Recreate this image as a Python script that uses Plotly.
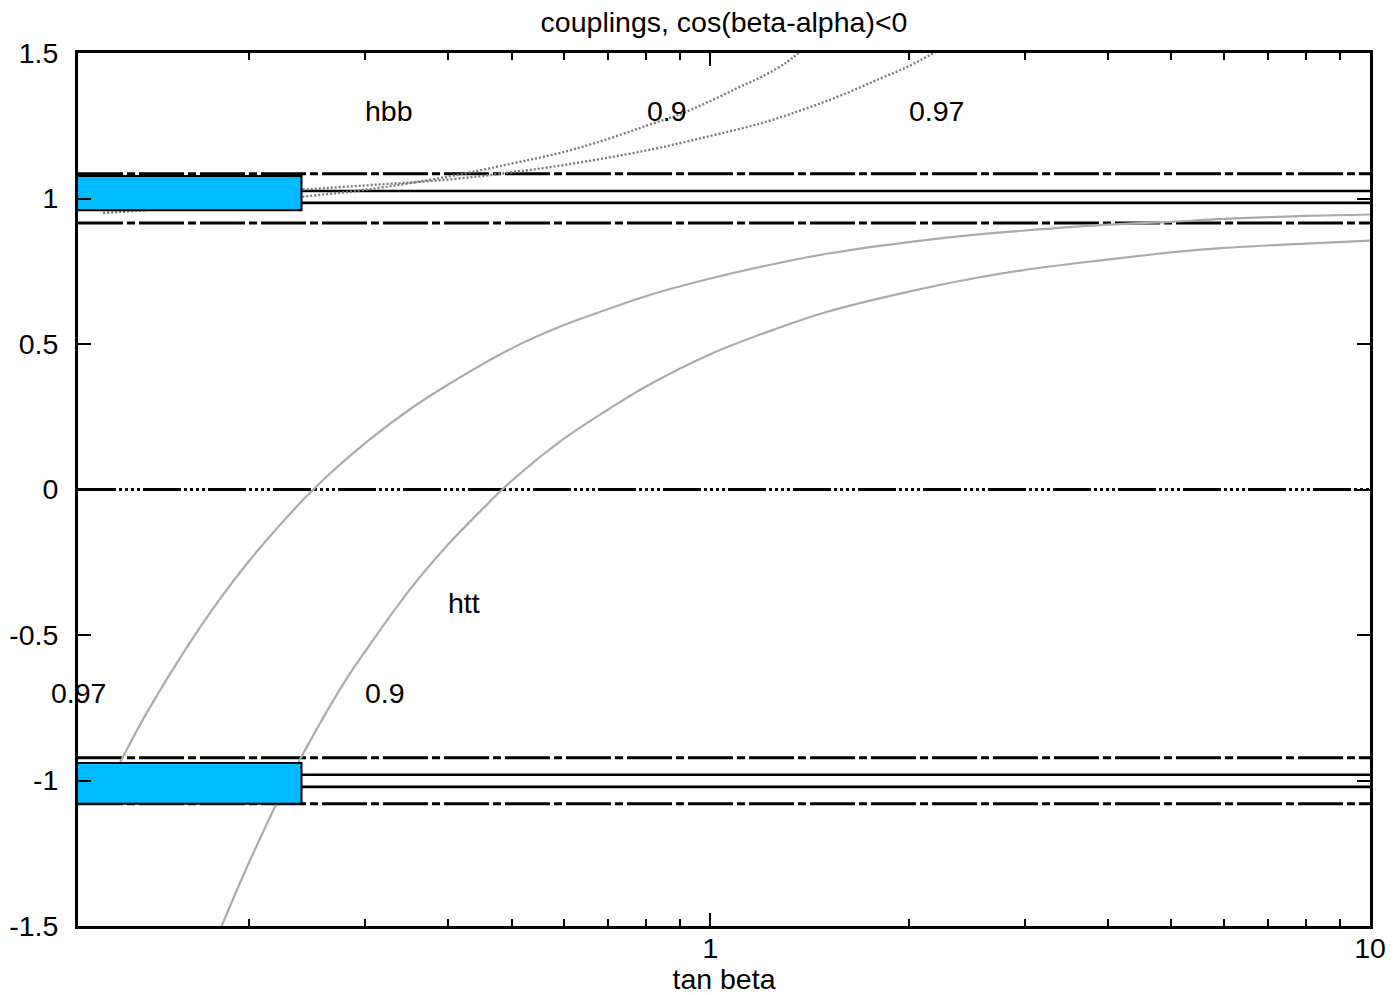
import numpy as np
import plotly.graph_objects as go

# ---- data -------------------------------------------------------------
# h->tt coupling, sin(beta-alpha)=0.97 and 0.9
htt_097_tb = [0.12, 0.13, 0.14, 0.16, 0.18, 0.2, 0.22, 0.25, 0.3, 0.35, 0.4, 0.5, 0.6,
              0.7, 0.8, 1.0, 1.25, 1.5, 2.0, 2.5, 3.0, 4.0, 5.0, 6.0, 8.0, 10.0]
htt_097 = [-1.055, -0.90, -0.765, -0.55, -0.38, -0.245, -0.135, 0.0, 0.16, 0.275, 0.36,
           0.485, 0.565, 0.62, 0.665, 0.725, 0.775, 0.81, 0.85, 0.875, 0.89, 0.91, 0.92,
           0.93, 0.94, 0.945]

htt_09_tb = [0.18, 0.19, 0.2, 0.22, 0.25, 0.28, 0.3, 0.35, 0.4, 0.45, 0.5, 0.6, 0.7, 0.8,
             1.0, 1.25, 1.5, 2.0, 2.5, 3.0, 4.0, 5.0, 6.0, 8.0, 10.0]
htt_09 = [-1.52, -1.395, -1.28, -1.08, -0.845, -0.655, -0.555, -0.345, -0.19, -0.07, 0.03,
          0.175, 0.275, 0.355, 0.465, 0.55, 0.61, 0.68, 0.725, 0.755, 0.79, 0.815, 0.83,
          0.845, 0.855]

# h->bb coupling, sin(beta-alpha)=0.9 and 0.97
hbb_09_tb = [0.12, 0.15, 0.2, 0.25, 0.3, 0.4, 0.5, 0.6, 0.7, 0.8, 0.9, 1.0, 1.1, 1.2, 1.3, 1.36]
hbb_09 = [0.95, 0.965, 0.985, 1.01, 1.03, 1.075, 1.12, 1.16, 1.205, 1.25, 1.29, 1.335,
          1.38, 1.42, 1.465, 1.50]

hbb_097_tb = [0.12, 0.2, 0.3, 0.4, 0.5, 0.6, 0.8, 1.0, 1.2, 1.4, 1.6, 1.8, 2.0, 2.2]
hbb_097 = [1.0, 1.02, 1.045, 1.065, 1.09, 1.115, 1.165, 1.215, 1.26, 1.31, 1.36, 1.41,
           1.455, 1.505]

# constant reference levels
solid_levels = [1.026, 0.985, -0.98, -1.022]
dashdot_levels = [1.085, 0.916, -0.922, -1.08]
zero_level = [0.0]

# allowed regions (boxes)
box_tb = [0.108, 0.24]
box_upper = [0.96, 1.077]
box_lower = [-1.08, -0.94]

# axis setup
x_range = [0.11, 10.0]
x_major = [1, 10]
x_major_text = ["1", "10"]
x_minor = [0.2, 0.3, 0.4, 0.5, 0.6, 0.7, 0.8, 0.9, 2, 3, 4, 5, 6, 7, 8, 9]
y_ticks = [-1.5, -1.0, -0.5, 0.0, 0.5, 1.0, 1.5]
y_tick_text = ["-1.5", "-1", "-0.5", "0", "0.5", "1", "1.5"]

# curve labels: (text, tan beta, coupling)
labels = [
    ("hbb", 0.326, 1.30),
    ("0.9", 0.86, 1.30),
    ("0.97", 2.2, 1.30),
    ("htt", 0.423, -0.39),
    ("0.97", 0.1103, -0.70),
    ("0.9", 0.321, -0.70),
]

FONT = "Liberation Sans, Arial, sans-serif"
FS = 28.5

fig = go.Figure()

# horizontal reference lines
for lvl in dashdot_levels:
    fig.add_trace(go.Scatter(x=x_range, y=[lvl, lvl], mode="lines",
                             line=dict(color="black", width=3, dash="45px,4px,8px,4px"),
                             hoverinfo="skip"))
for lvl in solid_levels:
    fig.add_trace(go.Scatter(x=x_range, y=[lvl, lvl], mode="lines",
                             line=dict(color="black", width=2.6), hoverinfo="skip"))
for lvl in zero_level:
    fig.add_trace(go.Scatter(x=x_range, y=[lvl, lvl], mode="lines",
                             line=dict(color="black", width=2.8,
                                       dash="38px,3px,3px,3px,3px,3px,3px,3px,3px,3px"),
                             hoverinfo="skip"))

# coupling curves
for tb, val in [(htt_097_tb, htt_097), (htt_09_tb, htt_09)]:
    fig.add_trace(go.Scatter(x=tb, y=val, mode="lines", line_shape="spline",
                             line=dict(color="#ababab", width=2.2), hoverinfo="skip"))
for tb, val in [(hbb_09_tb, hbb_09), (hbb_097_tb, hbb_097)]:
    fig.add_trace(go.Scatter(x=tb, y=val, mode="lines", line_shape="spline",
                             line=dict(color="#7a7a7a", width=2.4, dash="2px,2px"),
                             hoverinfo="skip"))

# boxes on top
for yb in [box_upper, box_lower]:
    fig.add_trace(go.Scatter(
        x=[box_tb[0], box_tb[1], box_tb[1], box_tb[0], box_tb[0]],
        y=[yb[0], yb[0], yb[1], yb[1], yb[0]],
        mode="lines", fill="toself", fillcolor="#00bbff",
        line=dict(color="black", width=2), hoverinfo="skip"))

for text, tb, val in labels:
    fig.add_annotation(x=np.log10(tb), y=val, xref="x", yref="y", text=text,
                       showarrow=False, font=dict(family=FONT, size=FS, color="black"))

fig.update_layout(
    width=1400, height=995,
    margin=dict(l=78, r=30, t=53, b=69, autoexpand=False),
    paper_bgcolor="white", plot_bgcolor="white",
    showlegend=False,
    font=dict(family=FONT, size=FS, color="black"),
    title=dict(text="couplings, cos(beta-alpha)<0", x=0.5, xref="paper",
               y=1 - 22 / 995, yref="container", xanchor="center", yanchor="middle",
               font=dict(family=FONT, size=FS, color="black")),
)

fig.update_xaxes(
    type="log", range=[np.log10(x_range[0]), np.log10(x_range[1])],
    tickmode="array", tickvals=x_major, ticktext=x_major_text,
    ticks="inside", ticklen=13, tickwidth=2, tickcolor="black",
    minor=dict(tickmode="array", tickvals=x_minor, ticks="inside", ticklen=7,
               tickwidth=2, tickcolor="black", showgrid=False),
    showline=True, linecolor="black", linewidth=3, mirror="ticks",
    showgrid=False, zeroline=False, ticklabelstandoff=-5, automargin=False,
    title=dict(text="tan beta", standoff=10, font=dict(family=FONT, size=FS)),
    tickfont=dict(family=FONT, size=FS),
)
fig.update_yaxes(
    range=[-1.5, 1.5], tickmode="array", tickvals=y_ticks, ticktext=y_tick_text,
    ticks="inside", ticklen=13, tickwidth=2, tickcolor="black",
    showline=True, linecolor="black", linewidth=3, mirror="ticks",
    showgrid=False, zeroline=False, ticklabelstandoff=11, automargin=False,
    tickfont=dict(family=FONT, size=FS),
)

fig.write_html("out.html")
